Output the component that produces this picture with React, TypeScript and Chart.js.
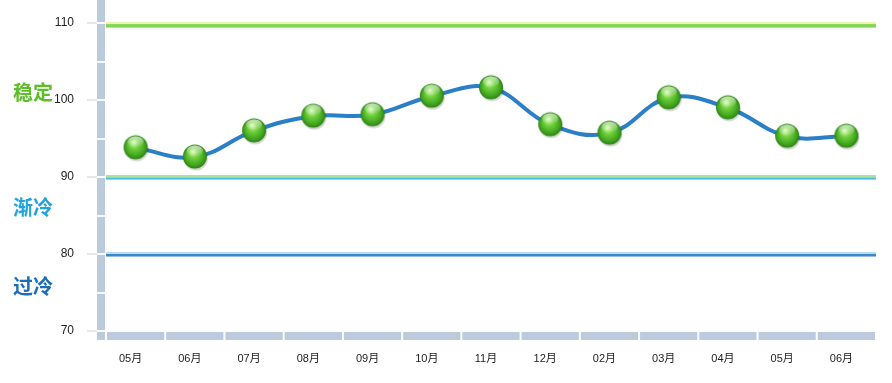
import React, { useEffect, useRef } from "react";
import { Chart, registerables } from "chart.js";

Chart.register(...registerables);

const categories = ["05月", "06月", "07月", "08月", "09月", "10月", "11月", "12月", "02月", "03月", "04月", "05月", "06月"];
const values = [93.8, 92.6, 96.0, 97.9, 98.1, 100.5, 101.6, 96.8, 95.7, 100.3, 99.0, 95.3, 95.3];
const yMin = 70;
const yMax = 113;
const yStep = 10;
const minorStep = 5;
const thresholds = [110, 90, 80];
const zoneLabels = ["稳定", "渐冷", "过冷"];
const zoneValues = [101, 86, 75.8];
const zoneColors = ["#5cbf2a", "#22a3dc", "#1a6db8"];

function makeSphere(): HTMLCanvasElement {
  const c = document.createElement("canvas");
  c.width = 30;
  c.height = 30;
  const ctx = c.getContext("2d")!;
  const cx = 15, cy = 14.5, r = 12;
  ctx.save();
  ctx.fillStyle = "rgba(0,0,0,0.16)";
  ctx.beginPath();
  ctx.ellipse(cx + 1, cy + 2, r, r, 0, 0, Math.PI * 2);
  ctx.fill();
  ctx.restore();
  const g = ctx.createRadialGradient(cx - 2, cy - 5, 1, cx, cy, r);
  g.addColorStop(0, "#c8f4a0");
  g.addColorStop(0.35, "#70d03c");
  g.addColorStop(0.8, "#40a41e");
  g.addColorStop(1, "#2c8012");
  ctx.fillStyle = g;
  ctx.beginPath();
  ctx.arc(cx, cy, r, 0, Math.PI * 2);
  ctx.fill();
  const h = ctx.createLinearGradient(0, cy - r, 0, cy);
  h.addColorStop(0, "rgba(255,255,255,0.75)");
  h.addColorStop(1, "rgba(255,255,255,0)");
  ctx.fillStyle = h;
  ctx.beginPath();
  ctx.ellipse(cx, cy - 5.5, 8, 5.5, 0, 0, Math.PI * 2);
  ctx.fill();
  return c;
}

const decorPlugin = {
  id: "decor",
  beforeDatasetsDraw(chart: any) {
    const { ctx, chartArea, scales } = chart;
    const y = scales.y;
    const L = chartArea.left, R = chartArea.right;
    ctx.save();
    let p = y.getPixelForValue(thresholds[0]);
    ctx.fillStyle = "#f2f2a8";
    ctx.fillRect(L, p - 1, R - L, 2);
    ctx.fillStyle = "#7ed655";
    ctx.fillRect(L, p + 1, R - L, 3.5);
    p = y.getPixelForValue(thresholds[1]);
    ctx.fillStyle = "#a6e49c";
    ctx.fillRect(L, p - 2, R - L, 2.5);
    ctx.fillStyle = "#4cb8e6";
    ctx.fillRect(L, p + 0.5, R - L, 2);
    p = y.getPixelForValue(thresholds[2]);
    ctx.fillStyle = "#b2def2";
    ctx.fillRect(L, p - 2, R - L, 2);
    ctx.fillStyle = "#3b86c6";
    ctx.fillRect(L, p, R - L, 2.5);
    ctx.restore();
  },
  afterDraw(chart: any) {
    const { ctx, chartArea, scales } = chart;
    const y = scales.y;
    const L = chartArea.left, B = chartArea.bottom;
    const band = "#bccbdb";
    ctx.save();
    ctx.fillStyle = "#d2d2d2";
    y.ticks.forEach((t: any) => {
      const p = Math.round(y.getPixelForValue(t.value));
      ctx.fillRect(L - 19, p - 0.5, 10, 1);
    });
    ctx.fillStyle = band;
    ctx.fillRect(L - 9, 0, 8, B - 1);
    ctx.fillStyle = "rgba(255,255,255,0.9)";
    for (let v = yMin + minorStep; v <= yMax; v += minorStep) {
      const p = Math.round(y.getPixelForValue(v));
      ctx.fillRect(L - 9, p - 1, 8, 2);
    }
    ctx.fillStyle = band;
    ctx.fillRect(L - 9, B + 1, 8, 8);
    const n = categories.length;
    const w = (chartArea.right - L) / n;
    for (let i = 0; i < n; i++) {
      const x0 = L + i * w + 1;
      ctx.fillRect(x0, B + 1, w - 2, 8);
    }
    ctx.font = "bold 20px 'Noto Sans CJK SC', sans-serif";
    ctx.textAlign = "left";
    ctx.textBaseline = "middle";
    zoneLabels.forEach((t, i) => {
      ctx.fillStyle = zoneColors[i];
      ctx.fillText(t, 13, y.getPixelForValue(zoneValues[i]));
    });
    ctx.restore();
  },
};

export default function App() {
  const ref = useRef<HTMLCanvasElement>(null);
  useEffect(() => {
    document.body.style.margin = "0";
    const sphere = makeSphere();
    const chart = new Chart(ref.current!, {
      type: "line",
      data: {
        labels: categories,
        datasets: [
          {
            data: values,
            borderColor: "#2b7fc6",
            borderWidth: 4,
            tension: 0.4,
            pointStyle: sphere as any,
            pointRadius: 12,
            fill: false,
          },
        ],
      },
      options: {
        animation: false,
        responsive: false,
        events: [],
        layout: { autoPadding: false, padding: { left: 0, right: 16, top: 0, bottom: 0 } },
        plugins: { legend: { display: false }, tooltip: { enabled: false } },
        scales: {
          x: {
            offset: true,
            afterFit(scale: any) {
              scale.height = 52;
            },
            grid: { display: false, drawTicks: false },
            border: { display: false },
            ticks: {
              padding: 21,
              labelOffset: -5,
              color: "#222",
              font: { size: 11, family: "Arial, 'Noto Sans CJK SC', sans-serif" },
            },
          },
          y: {
            min: yMin,
            max: yMax,
            afterFit(scale: any) {
              scale.width = 106;
            },
            grid: { drawOnChartArea: false, drawTicks: true, tickLength: 32, tickColor: "rgba(0,0,0,0)" },
            border: { display: false },
            ticks: {
              stepSize: yStep,
              includeBounds: false,
              padding: 0,
              color: "#222",
              font: { size: 12, family: "Arial, sans-serif", lineHeight: 0 },
            },
          },
        },
      },
      plugins: [decorPlugin],
    });
    return () => chart.destroy();
  }, []);
  return (
    <div style={{ width: 892, height: 383 }}>
      <canvas ref={ref} width={892} height={383} />
    </div>
  );
}
